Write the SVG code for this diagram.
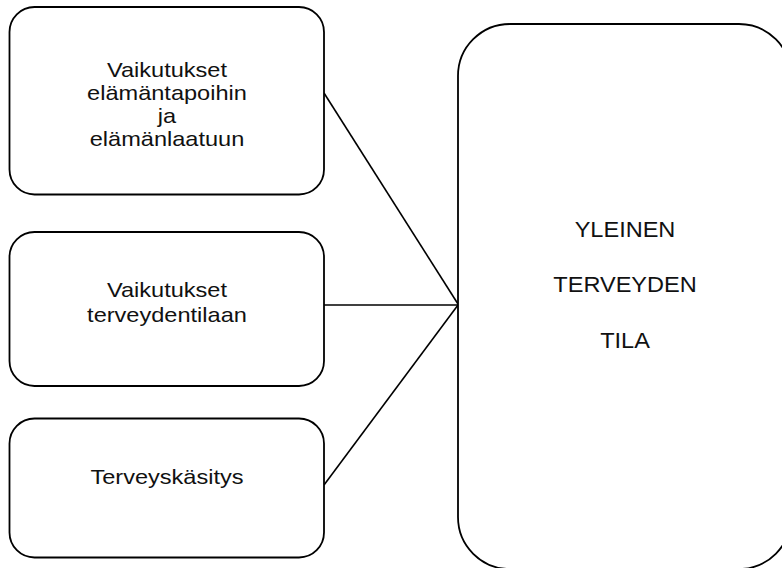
<svg xmlns="http://www.w3.org/2000/svg" width="782" height="568" viewBox="0 0 782 568">
  <style>
    .box { fill: #ffffff; stroke: #000000; stroke-width: 1.8; }
    .lbl { font-family: "Liberation Sans", Arial, sans-serif; font-size: 20.5px; fill: #111111; text-anchor: middle; }
    .big { font-size: 22px; }
    .conn line { stroke: #000000; stroke-width: 1.6; }
  </style>
  <rect width="782" height="568" fill="#ffffff"/>

  <!-- connectors -->
  <g id="connectors" class="conn">
    <line x1="324" y1="93" x2="458" y2="304"/>
    <line x1="324" y1="305" x2="458" y2="305"/>
    <line x1="324" y1="485" x2="458" y2="305"/>
  </g>

  <g id="node-elamantavat">
    <rect class="box" x="9.5" y="7" width="314.5" height="187.5" rx="25" ry="25"/>
    <g transform="translate(167 0) scale(1.15 1)">
      <text class="lbl" x="0" y="77">Vaikutukset</text>
      <text class="lbl" x="0" y="100">elämäntapoihin</text>
      <text class="lbl" x="0" y="123">ja</text>
      <text class="lbl" x="0" y="146">elämänlaatuun</text>
    </g>
  </g>

  <g id="node-terveydentila">
    <rect class="box" x="9.5" y="232" width="314.5" height="154" rx="25" ry="25"/>
    <g transform="translate(167 0) scale(1.15 1)">
      <text class="lbl" x="0" y="297">Vaikutukset</text>
      <text class="lbl" x="0" y="322">terveydentilaan</text>
    </g>
  </g>

  <g id="node-terveyskasitys">
    <rect class="box" x="9.5" y="418.5" width="314.5" height="139" rx="25" ry="25"/>
    <g transform="translate(167 0) scale(1.15 1)">
      <text class="lbl" x="0" y="484">Terveyskäsitys</text>
    </g>
  </g>

  <g id="node-yleinen">
    <rect class="box" x="458" y="24" width="333" height="545" rx="52" ry="52"/>
    <g transform="translate(625 0) scale(1.07 1)">
      <text class="lbl big" x="0" y="237">YLEINEN</text>
      <text class="lbl big" x="0" y="292">TERVEYDEN</text>
      <text class="lbl big" x="0" y="348">TILA</text>
    </g>
  </g>
</svg>
